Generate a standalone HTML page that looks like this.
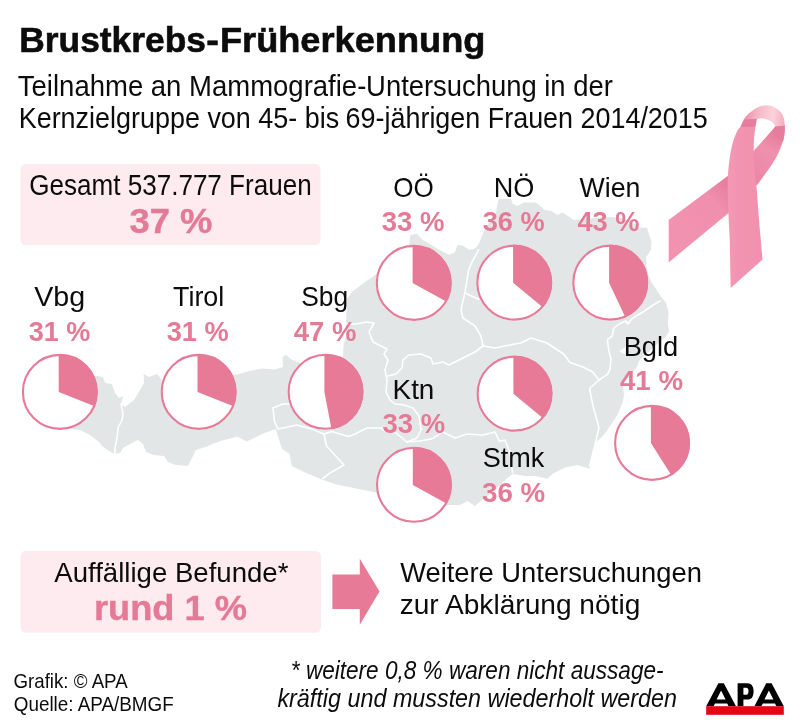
<!DOCTYPE html>
<html><head><meta charset="utf-8"><title>Brustkrebs-Früherkennung</title>
<style>
html,body{margin:0;padding:0;background:#fff;}
svg{display:block;font-family:"Liberation Sans",sans-serif;}
</style></head><body>
<svg width="800" height="727" viewBox="0 0 800 727">
<rect width="800" height="727" fill="#fff"/>
<path d="M60,375 L97,376 L103,377 L105,383 L112,384 L115,393 L119,398 L123,396 L121,404 L125,407 L134,400 L140,390 L144,383 L143.6,374 L149,377 L157,374 L162,380 L200,376 L237,374.6 L249.8,370.9 L262,368.4 L274.5,369.6 L283,367 L282.5,357 L285.7,354.8 L291.9,359.7 L300,363 L330,363 L343,358 L343.5,345 L346,337 L346,324 L347,299 L352,292 L365,282 L378,273 L390,258 L409,244.8 L410.5,235 L416.7,233.7 L422.9,239.9 L429,243.6 L439,249.8 L448.9,254.7 L455,252.2 L457.6,244.8 L463.7,246 L468.7,249.8 L474,249 L477.5,246 L480.6,240 L483.75,231 L490,221 L496,212.5 L498,201 L499.4,198.75 L511,198.75 L512.5,203.75 L517.5,206 L523.75,202.5 L536,202.5 L540,206 L545,210 L551,211 L557.5,215 L562.5,212.5 L567.6,215.7 L573.6,220 L585,219 L600,217.5 L612,217 L624,218.5 L633,223 L640,227.5 L647,227.8 L649.3,235.4 L651.6,241.5 L650.8,250.5 L646.3,256.6 L646.3,266 L648.5,275 L650.8,280.8 L658.4,292.9 L663,299 L666,303 L668.5,312 L668,324 L669,332 L664.5,338 L655,346 L645,355 L639,361 L637,367 L630,376 L622.7,383.5 L624,395 L622.7,402 L618,414 L612,423 L605,433.8 L596,442.5 L592.5,452.5 L590,468.8 L577.5,465 L565,467.5 L552.5,473.8 L547.5,478.8 L535,476 L525,476 L512.5,474 L505,480 L495,490 L482,500 L475,506 L467.5,501 L460,505 L450,505 L440,507 L420,506 L400,499 L376,492.5 L353.8,488 L336.5,484.5 L321.6,479.5 L304,472 L291.9,466 L289.4,453.8 L282,449 L278,436.5 L275.8,429 L262,434 L247,441.5 L237,436.5 L232,438 L220,441 L208,446 L196,450 L192,458 L188,466 L176,465 L168,462 L164,456 L154,455 L146,452 L143,444 L138,440 L130,444 L123,448 L120,453 L115,454 L112,453 L102,446 L99,442 L90,435 L80,430 L60,428 L40,410 L40,390 Z" fill="#e2e6e6"/>
<g fill="none" stroke="#fff" stroke-width="1.6" stroke-linejoin="round" stroke-linecap="round">
<!-- Vbg/Tirol -->
<path d="M121,404 L123,414 L122,420 L118,428 L117,438 L115,448 L115,454"/>
<!-- Tirol/Sbg + Osttirol -->
<path d="M290,404 L283,404 L273,408 L274.5,421.6 L278,429 L296.8,425 L311.7,429 L324,434 L326.5,446 L334,454 L343.9,465 L329,473.6 L322.8,478.6"/>
<!-- Sbg/Ktn -->
<path d="M324,434 L331.5,431.5 L348.8,436.5 L355,434 L367,428 L381,428 L385,431 L396,433 L407,442"/>
<!-- Sbg/OÖ -->
<path d="M346,324 L355,324 L367,322 L374,323 L369,332 L373,342 L381,346 L387,349 L384,354 L388,360 L385,370 L387,380 L386,392 L390,400 L395,404 L404,405 L413,408 L419,416 L421,430 L417,438 L407,442"/>
<!-- Stmk west bulge / OÖ-Stmk -->
<path d="M388,376 L396,374 L402,368 L403,360 L409,355 L421,354 L431,358 L433,364 L443,362 L449,365 L461,359 L475,352 L483,346"/>
<!-- OÖ/NÖ -->
<path d="M478.6,249.8 L472,262 L468.7,269.6 L465,291.9 L461,310 L463,318 L475,326 L481,336 L483,346"/>
<path d="M465,293 L478.6,299.3"/>
<!-- NÖ/Stmk -->
<path d="M483,346 L495,348 L515,344 L521,343 L531,338 L547,343 L563.5,354 L570,362.5 L583,367 L592.7,372 L599,380"/>
<!-- NÖ/Bgld -->
<path d="M660,301 L653,305 L644.5,311 L632,318.6 L627.8,324 L626,321 L619.8,323.5 L613.6,328.5 L612.3,336 L607.4,339.6 L608.6,349.5 L611,359.4 L609.9,369.3 L607.4,374.3 L599,380"/>
<!-- Stmk/Bgld -->
<path d="M599,380 L589.5,388.5 L592.7,404.7 L599,427.5 L596,440.5 L592.7,453.5 L589.5,466.5"/>
<!-- Stmk/Ktn -->
<path d="M407,442 L420,441 L431.8,438.9 L443,432 L455,438 L467,434 L483,435 L495,432 L499.4,441.3 L505,440 L510,452.5 L512.5,472.5"/>
</g>
<path id="lake" d="M625.6,346.8 L619.2,351.6 L625.4,354.6 Z" fill="#fff"/>

<rect x="20.5" y="164" width="300" height="81" rx="5.5" fill="#fdebef"/>
<rect x="20.5" y="551" width="300.5" height="81.8" rx="5.5" fill="#fdebef"/>
<clipPath id="pc1"><circle cx="59.9" cy="391.9" r="37.75"/></clipPath><circle cx="59.9" cy="391.9" r="38.05" fill="#fff"/><path clip-path="url(#pc1)" d="M58.699999999999996,392.0 L58.699999999999996,349.95 A42.05,42.05 0 0 1 97.80,407.48 Z" fill="#e67a97"/><circle cx="59.9" cy="391.9" r="37.0" fill="none" stroke="#e67a97" stroke-width="2.1"/>
<clipPath id="pc2"><circle cx="198.7" cy="391.9" r="37.75"/></clipPath><circle cx="198.7" cy="391.9" r="38.05" fill="#fff"/><path clip-path="url(#pc2)" d="M197.5,392.0 L197.5,349.95 A42.05,42.05 0 0 1 236.60,407.48 Z" fill="#e67a97"/><circle cx="198.7" cy="391.9" r="37.0" fill="none" stroke="#e67a97" stroke-width="2.1"/>
<clipPath id="pc3"><circle cx="325.6" cy="391.8" r="37.75"/></clipPath><circle cx="325.6" cy="391.8" r="38.05" fill="#fff"/><path clip-path="url(#pc3)" d="M324.40000000000003,391.90000000000003 L324.40000000000003,349.85 A42.05,42.05 0 0 1 332.28,433.21 Z" fill="#e67a97"/><circle cx="325.6" cy="391.8" r="37.0" fill="none" stroke="#e67a97" stroke-width="2.1"/>
<clipPath id="pc4"><circle cx="413.8" cy="282.9" r="37.75"/></clipPath><circle cx="413.8" cy="282.9" r="38.05" fill="#fff"/><path clip-path="url(#pc4)" d="M412.6,283.0 L412.6,240.95 A42.05,42.05 0 0 1 449.45,303.26 Z" fill="#e67a97"/><circle cx="413.8" cy="282.9" r="37.0" fill="none" stroke="#e67a97" stroke-width="2.1"/>
<clipPath id="pc5"><circle cx="514.3" cy="282.6" r="37.75"/></clipPath><circle cx="514.3" cy="282.6" r="38.05" fill="#fff"/><path clip-path="url(#pc5)" d="M513.0999999999999,282.70000000000005 L513.0999999999999,240.65000000000003 A42.05,42.05 0 0 1 545.50,309.50 Z" fill="#e67a97"/><circle cx="514.3" cy="282.6" r="37.0" fill="none" stroke="#e67a97" stroke-width="2.1"/>
<clipPath id="pc6"><circle cx="610.3" cy="282.6" r="37.75"/></clipPath><circle cx="610.3" cy="282.6" r="38.05" fill="#fff"/><path clip-path="url(#pc6)" d="M609.0999999999999,282.70000000000005 L609.0999999999999,240.65000000000003 A42.05,42.05 0 0 1 627.00,320.75 Z" fill="#e67a97"/><circle cx="610.3" cy="282.6" r="37.0" fill="none" stroke="#e67a97" stroke-width="2.1"/>
<clipPath id="pc7"><circle cx="514.6" cy="393.6" r="37.75"/></clipPath><circle cx="514.6" cy="393.6" r="38.05" fill="#fff"/><path clip-path="url(#pc7)" d="M513.4,393.70000000000005 L513.4,351.65000000000003 A42.05,42.05 0 0 1 545.80,420.50 Z" fill="#e67a97"/><circle cx="514.6" cy="393.6" r="37.0" fill="none" stroke="#e67a97" stroke-width="2.1"/>
<clipPath id="pc8"><circle cx="414" cy="484.8" r="37.75"/></clipPath><circle cx="414" cy="484.8" r="38.05" fill="#fff"/><path clip-path="url(#pc8)" d="M412.8,484.90000000000003 L412.8,442.85 A42.05,42.05 0 0 1 449.65,505.16 Z" fill="#e67a97"/><circle cx="414" cy="484.8" r="37.0" fill="none" stroke="#e67a97" stroke-width="2.1"/>
<clipPath id="pc9"><circle cx="652.1" cy="442.9" r="37.75"/></clipPath><circle cx="652.1" cy="442.9" r="38.05" fill="#fff"/><path clip-path="url(#pc9)" d="M650.9,443.0 L650.9,400.95 A42.05,42.05 0 0 1 673.43,478.50 Z" fill="#e67a97"/><circle cx="652.1" cy="442.9" r="37.0" fill="none" stroke="#e67a97" stroke-width="2.1"/>
<defs><filter id="noaa" filterUnits="userSpaceOnUse" x="0" y="0" width="800" height="727"><feOffset dx="0" dy="0"/></filter></defs><g filter="url(#noaa)">
<text x="19.22" y="51.7" font-size="35.6" font-weight="bold" font-style="normal" fill="#0c0c0c" stroke="#0c0c0c" stroke-width="0.6" textLength="186.74" lengthAdjust="spacingAndGlyphs">Brustkrebs</text>
<text x="206.37" y="51.7" font-size="35.6" font-weight="bold" font-style="normal" fill="#0c0c0c" stroke="#0c0c0c" stroke-width="0.6" textLength="12.63" lengthAdjust="spacingAndGlyphs">-</text>
<text x="219.95" y="51.7" font-size="35.6" font-weight="bold" font-style="normal" fill="#0c0c0c" stroke="#0c0c0c" stroke-width="0.6" textLength="265.52" lengthAdjust="spacingAndGlyphs">Früherkennung</text>
<text x="17.83" y="95.8" font-size="29.3" font-weight="normal" font-style="normal" fill="#0c0c0c" textLength="348.46" lengthAdjust="spacingAndGlyphs">Teilnahme an Mammografie-</text>
<text x="366.12" y="95.8" font-size="29.3" font-weight="normal" font-style="normal" fill="#0c0c0c" textLength="246.72" lengthAdjust="spacingAndGlyphs">Untersuchung in der</text>
<text x="18.69" y="128.3" font-size="29.3" font-weight="normal" font-style="normal" fill="#0c0c0c" textLength="320.51" lengthAdjust="spacingAndGlyphs">Kernzielgruppe von 45- bis</text>
<text x="345.60" y="128.3" font-size="29.3" font-weight="normal" font-style="normal" fill="#0c0c0c" textLength="362.17" lengthAdjust="spacingAndGlyphs">69-jährigen Frauen 2014/2015</text>
<text x="29.20" y="194.7" font-size="28.9" font-weight="normal" font-style="normal" fill="#0c0c0c" textLength="282.49" lengthAdjust="spacingAndGlyphs">Gesamt 537.777 Frauen</text>
<text x="129.53" y="233.0" font-size="35.1" font-weight="bold" font-style="normal" fill="#e57a97" stroke="#e57a97" stroke-width="0.4" textLength="82.90" lengthAdjust="spacingAndGlyphs">37 %</text>
<text x="34.16" y="306" font-size="28.3" font-weight="normal" font-style="normal" fill="#0c0c0c" textLength="50.93" lengthAdjust="spacingAndGlyphs">Vbg</text>
<text x="28.66" y="341.2" font-size="26.8" font-weight="bold" font-style="normal" fill="#e57a97" textLength="61.74" lengthAdjust="spacingAndGlyphs">31 %</text>
<text x="173.02" y="306" font-size="28.3" font-weight="normal" font-style="normal" fill="#0c0c0c" textLength="51.26" lengthAdjust="spacingAndGlyphs">Tirol</text>
<text x="166.66" y="341.2" font-size="26.8" font-weight="bold" font-style="normal" fill="#e57a97" textLength="62.04" lengthAdjust="spacingAndGlyphs">31 %</text>
<text x="301.15" y="306" font-size="28.3" font-weight="normal" font-style="normal" fill="#0c0c0c" textLength="46.95" lengthAdjust="spacingAndGlyphs">Sbg</text>
<text x="293.77" y="341.2" font-size="26.8" font-weight="bold" font-style="normal" fill="#e57a97" textLength="62.71" lengthAdjust="spacingAndGlyphs">47 %</text>
<text x="393.15" y="196.8" font-size="28.3" font-weight="normal" font-style="normal" fill="#0c0c0c" textLength="40.50" lengthAdjust="spacingAndGlyphs">OÖ</text>
<text x="381.76" y="231.2" font-size="26.8" font-weight="bold" font-style="normal" fill="#e57a97" textLength="62.72" lengthAdjust="spacingAndGlyphs">33 %</text>
<text x="493.76" y="196.8" font-size="28.3" font-weight="normal" font-style="normal" fill="#0c0c0c" textLength="40.62" lengthAdjust="spacingAndGlyphs">NÖ</text>
<text x="482.66" y="231.2" font-size="26.8" font-weight="bold" font-style="normal" fill="#e57a97" textLength="61.95" lengthAdjust="spacingAndGlyphs">36 %</text>
<text x="579.61" y="196.8" font-size="28.3" font-weight="normal" font-style="normal" fill="#0c0c0c" textLength="60.82" lengthAdjust="spacingAndGlyphs">Wien</text>
<text x="577.43" y="231.2" font-size="26.8" font-weight="bold" font-style="normal" fill="#e57a97" textLength="62.04" lengthAdjust="spacingAndGlyphs">43 %</text>
<text x="623.66" y="355.6" font-size="28.3" font-weight="normal" font-style="normal" fill="#0c0c0c" textLength="54.66" lengthAdjust="spacingAndGlyphs">Bgld</text>
<text x="619.95" y="390.2" font-size="26.8" font-weight="bold" font-style="normal" fill="#e57a97" textLength="63.12" lengthAdjust="spacingAndGlyphs">41 %</text>
<text x="392.57" y="398.7" font-size="28.3" font-weight="normal" font-style="normal" fill="#0c0c0c" textLength="41.79" lengthAdjust="spacingAndGlyphs">Ktn</text>
<text x="382.62" y="433.3" font-size="26.8" font-weight="bold" font-style="normal" fill="#e57a97" textLength="62.56" lengthAdjust="spacingAndGlyphs">33 %</text>
<text x="482.70" y="466.5" font-size="28.3" font-weight="normal" font-style="normal" fill="#0c0c0c" textLength="61.69" lengthAdjust="spacingAndGlyphs">Stmk</text>
<text x="481.98" y="502.2" font-size="26.8" font-weight="bold" font-style="normal" fill="#e57a97" textLength="63.17" lengthAdjust="spacingAndGlyphs">36 %</text>
<text x="54.26" y="582" font-size="28.3" font-weight="normal" font-style="normal" fill="#0c0c0c" textLength="234.15" lengthAdjust="spacingAndGlyphs">Auffällige Befunde*</text>
<text x="93.90" y="620.4" font-size="35.5" font-weight="bold" font-style="normal" fill="#e57a97" stroke="#e57a97" stroke-width="0.4" textLength="153.02" lengthAdjust="spacingAndGlyphs">rund 1 %</text>
<text x="400.16" y="582" font-size="28.3" font-weight="normal" font-style="normal" fill="#0c0c0c" textLength="301.68" lengthAdjust="spacingAndGlyphs">Weitere Untersuchungen</text>
<text x="399.69" y="614.1" font-size="28.3" font-weight="normal" font-style="normal" fill="#0c0c0c" textLength="240.61" lengthAdjust="spacingAndGlyphs">zur Abklärung nötig</text>
<text x="13.56" y="687.7" font-size="19.8" font-weight="normal" font-style="normal" fill="#0c0c0c" textLength="114.07" lengthAdjust="spacingAndGlyphs">Grafik: © APA</text>
<text x="13.74" y="711" font-size="19.8" font-weight="normal" font-style="normal" fill="#0c0c0c" textLength="160.06" lengthAdjust="spacingAndGlyphs">Quelle: APA/BMGF</text>
<text x="290.84" y="679" font-size="25" font-weight="normal" font-style="italic" fill="#0c0c0c" textLength="372.73" lengthAdjust="spacingAndGlyphs">* weitere 0,8 % waren nicht aussage-</text>
<text x="277.43" y="707.2" font-size="25" font-weight="normal" font-style="italic" fill="#0c0c0c" textLength="399.55" lengthAdjust="spacingAndGlyphs">kräftig und mussten wiederholt werden</text>
</g>
<path d="M332.4,574.5 H359.8 V558.7 L379.5,591.5 L359.8,624.8 V609 H332.4 Z" fill="#e67a97"/>
<g>
<path fill-rule="evenodd" fill="#000" d="M706.2,706.3 L718.4,683.2 L723.8,683.2 L736,706.3 L728.6,706.3 L727.2,703.6 L715,703.6 L713.6,706.3 Z M721.1,690.4 L716.6,699.6 L725.6,699.6 Z"/>
<path fill-rule="evenodd" fill="#000" d="M737.6,683.2 L747.5,683.2 C751.5,683.2 753.6,686.5 753.6,691.4 C753.6,696.3 751.5,699.6 747.5,699.6 L743.4,699.6 L743.4,706.3 L737.6,706.3 Z M743.4,687.8 L743.4,694.8 L746.3,694.8 C747.8,694.8 748.5,693.4 748.5,691.3 C748.5,689.2 747.8,687.8 746.3,687.8 Z"/>
<path fill-rule="evenodd" fill="#000" d="M754.4,706.3 L766.2,683.2 L771.6,683.2 L783.8,706.3 L776.4,706.3 L775,703.6 L762.8,703.6 L761.4,706.3 Z M768.9,690.4 L764.4,699.6 L773.4,699.6 Z"/>
<rect x="706.2" y="706.2" width="77.6" height="8.6" fill="#e30613"/>
</g>

<defs>
<linearGradient id="rbTail" gradientUnits="userSpaceOnUse" x1="668" y1="245" x2="732" y2="190"><stop offset="0" stop-color="#f193b1"/><stop offset="0.75" stop-color="#f08fae"/><stop offset="0.93" stop-color="#ea82a3"/><stop offset="1" stop-color="#e87d9f"/></linearGradient>
<linearGradient id="rbRight" gradientUnits="userSpaceOnUse" x1="756" y1="180" x2="782" y2="128"><stop offset="0" stop-color="#ec86a6"/><stop offset="0.55" stop-color="#f090ae"/><stop offset="0.85" stop-color="#e97f9f"/><stop offset="1" stop-color="#e67999"/></linearGradient>
<linearGradient id="rbLoop" gradientUnits="userSpaceOnUse" x1="744" y1="118" x2="785" y2="122"><stop offset="0" stop-color="#ee8dab"/><stop offset="0.3" stop-color="#f6b4c6"/><stop offset="0.7" stop-color="#fbd3dc"/><stop offset="1" stop-color="#f4a9be"/></linearGradient>
<linearGradient id="rbFront" gradientUnits="userSpaceOnUse" x1="728" y1="200" x2="762" y2="200"><stop offset="0" stop-color="#f399b5"/><stop offset="0.3" stop-color="#f294b1"/><stop offset="1" stop-color="#f191af"/></linearGradient>
</defs>
<g>
<!-- back band: tail to lower-left -->
<path d="M668.7,220.1 L729,175 L731,211 L668.7,262.4 Z" fill="url(#rbTail)"/>
<!-- back band: right side up to loop -->
<path d="M748,156 L753,151.5 C760,144 770,133 775.6,126 L784.7,125.3 C785,131 784.5,136 783.2,140.4 C781,147 778.5,153 775.6,158.5 C770,168 763,177 757,185 L750,190 Z" fill="url(#rbRight)"/>
<path id="rdark" d="M775.4,127 L784.7,125.3 C784.9,131 784.4,136 783.2,141 L773,138 Z" fill="#e77d9e" opacity="0.75"/>
<!-- loop top -->
<path d="M743.9,119.2 C746,116 748.5,113.7 751.4,111.6 C754.5,109 757.5,107.3 760.5,106.3 C762.5,105.6 764.5,105.3 766.6,105.3 C770,105.4 773,106.3 775.6,107.9 C778.8,109.8 781,112 782.5,114.7 C784,118 784.6,121.5 784.7,125.3 L775.6,126.5 C774.3,124.3 773,122.7 771.1,121.5 C768.8,119.9 766.5,119 763.5,118.4 C761,118 759,118.3 756.7,119.2 L750,121 Z" fill="url(#rbLoop)"/>
<!-- dark inner of loop at top-left -->
<path d="M743.9,119.2 L756.9,119 L755.4,127.3 L740.0,127.8 Z" fill="#e77d9e"/>
<!-- front band -->
<path d="M740.2,127.2 L755.5,126.6 C754.3,134 753.6,143 753.7,151 C753.8,158 754,164.5 754.5,170.6 C755,177 755.8,183 756.7,188.8 C757.6,201 758.5,214 759.5,226.1 C760.5,237 761.5,248 762.5,259.4 L730.7,288.1 C730.3,272 730,257 729.8,241.2 C729.3,231 728.7,221 728.3,211 C727.8,200 727.6,190 727.7,180.7 C727.9,175 728.2,170.5 728.7,166.1 C729.4,159 730.4,152.5 731.8,146.4 C733.4,140 735.4,134.5 737.8,129.8 Z" fill="url(#rbFront)"/>
</g>

</svg>
</body></html>
